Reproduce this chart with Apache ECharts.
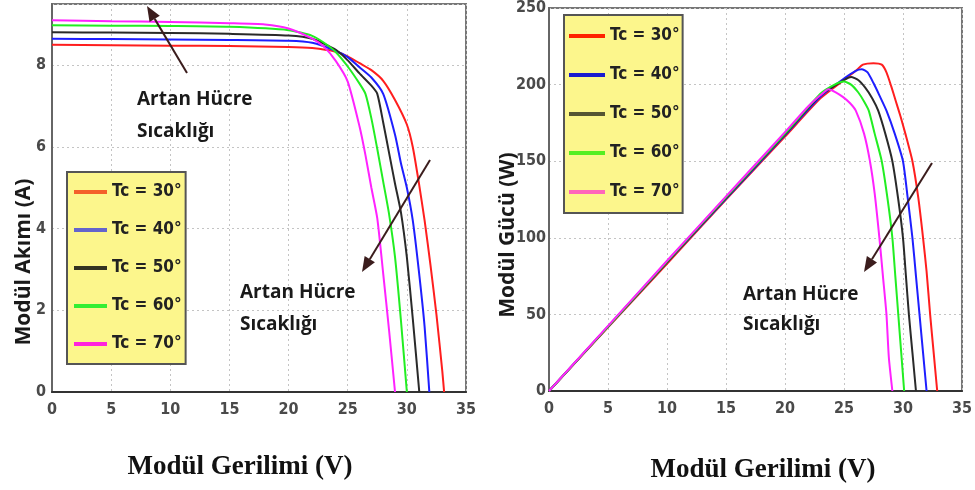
<!DOCTYPE html>
<html><head><meta charset="utf-8">
<script src="https://cdn.jsdelivr.net/npm/echarts@6/dist/echarts.min.js"></script>
<style>html,body{margin:0;padding:0;background:#fff}#c{width:975px;height:490px}</style>
</head><body><div id="c"></div>
<script>
// ---- data ----
const seriesNames = ['Tc = 30°', 'Tc = 40°', 'Tc = 50°', 'Tc = 60°', 'Tc = 70°'];
const xTicks = [0, 5, 10, 15, 20, 25, 30, 35];
const currentTicks = [0, 2, 4, 6, 8];
const powerTicks = [0, 50, 100, 150, 200, 250];

// I-V curves (V, A)
const ivVolt30 = [0, 5, 10, 15, 20, 22, 24, 25, 26, 27, 28, 29, 30, 30.5, 31, 31.5, 32, 32.5, 33, 33.15];
const ivAmp30  = [8.50, 8.49, 8.48, 8.47, 8.45, 8.42, 8.33, 8.22, 8.05, 7.88, 7.62, 7.15, 6.55, 6.0, 5.15, 4.2, 3.1, 1.9, 0.5, 0];
const ivVolt40 = [0, 5, 10, 15, 20, 22, 24, 25, 26, 27, 28, 29, 29.5, 30, 30.5, 31, 31.5, 31.9];
const ivAmp40  = [8.65, 8.64, 8.63, 8.62, 8.6, 8.55, 8.35, 8.2, 7.95, 7.7, 7.3, 6.3, 5.6, 5.0, 4.2, 3.0, 1.6, 0];
const ivVolt50 = [0, 5, 10, 15, 20, 22, 24, 25, 26, 27, 27.5, 28, 28.5, 29, 29.5, 30, 30.5, 31.05];
const ivAmp50  = [8.81, 8.8, 8.79, 8.77, 8.73, 8.65, 8.38, 8.12, 7.8, 7.5, 7.3, 6.6, 5.85, 5.1, 4.4, 3.3, 1.8, 0];
const ivVolt60 = [0, 5, 10, 15, 20, 22, 23, 24, 25, 26, 26.5, 27, 27.5, 28, 28.5, 29, 29.5, 30];
const ivAmp60  = [8.98, 8.97, 8.96, 8.94, 8.86, 8.72, 8.55, 8.32, 7.97, 7.55, 7.3, 6.7, 5.95, 5.15, 4.35, 3.3, 1.75, 0];
const ivVolt70 = [0, 5, 10, 15, 18, 20, 22, 23, 24, 25, 26, 26.5, 27, 27.5, 28, 28.5, 29];
const ivAmp70  = [9.1, 9.08, 9.06, 9.03, 9.0, 8.9, 8.65, 8.45, 8.1, 7.6, 6.5, 5.8, 5.0, 4.25, 2.9, 1.5, 0];

// P-V curves (V, W)
const pvVolt30 = [0, 5, 10, 15, 20, 23, 25, 26, 26.6, 27.5, 28.2, 28.6, 29.0, 29.4, 29.8, 30.2, 30.8, 31.3, 31.7, 32, 32.3, 32.6, 32.9];
const pvWatt30 = [0, 41.5, 83, 125, 166, 191, 203, 209, 213, 214, 213, 208, 199, 189, 179, 168, 150, 126, 100, 78, 50, 25, 0];
const pvVolt40 = [0, 5, 10, 15, 20, 23, 25, 26, 26.5, 27, 27.5, 28, 28.6, 29.3, 30, 30.4, 30.8, 31.1, 31.4, 31.7, 32];
const pvWatt40 = [0, 42, 84, 125.5, 167, 192, 204, 209, 210, 208, 201, 193, 183, 168, 150, 126, 100, 75, 50, 25, 0];
const pvVolt50 = [0, 5, 10, 15, 20, 23, 25, 25.6, 26.2, 26.8, 27.4, 27.9, 28.5, 29.1, 29.6, 30, 30.25, 30.5, 30.8, 31.1];
const pvWatt50 = [0, 42, 84, 126, 167.5, 193, 203, 205, 203, 198, 191, 183, 168, 150, 125, 100, 75, 50, 25, 0];
const pvVolt60 = [0, 5, 10, 15, 20, 23, 24.2, 25, 25.6, 26.2, 26.7, 27.1, 27.6, 28.2, 28.7, 29.1, 29.35, 29.6, 29.85, 30.1];
const pvWatt60 = [0, 42, 84.5, 126.5, 168, 194, 200, 202, 200, 195, 189, 183, 168, 150, 125, 100, 75, 50, 25, 0];
const pvVolt70 = [0, 5, 10, 15, 20, 22, 23, 23.7, 24.3, 24.9, 25.5, 26, 26.7, 27.2, 27.6, 28, 28.3, 28.6, 28.8, 29.1];
const pvWatt70 = [0, 42.5, 85, 127, 169, 186, 193, 197, 195, 192, 188, 183, 168, 150, 129, 100, 75, 50, 22, 0];

const lineColors = ['#ff1e1e', '#1e1eff', '#2a2a2a', '#22ee22', '#ff22ff'];
const legendColorsLeft = ['#f4602a', '#6464cc', '#333322', '#33ee33', '#ff22dd'];
const legendColorsRight = ['#ff2200', '#1a1ad0', '#555533', '#55ee22', '#ff66bb'];

// ---- build ----
const ivSets = [[ivVolt30, ivAmp30], [ivVolt40, ivAmp40], [ivVolt50, ivAmp50], [ivVolt60, ivAmp60], [ivVolt70, ivAmp70]];
const pvSets = [[pvVolt30, pvWatt30], [pvVolt40, pvWatt40], [pvVolt50, pvWatt50], [pvVolt60, pvWatt60], [pvVolt70, pvWatt70]];
const zip = (a, b) => a.map((v, i) => [v, b[i]]);

const tickFont = "'DejaVu Sans Condensed','Liberation Sans Narrow',sans-serif";
const legFont = tickFont;
const annFont = "'Open Sans','Noto Sans',sans-serif";

function makeX(gi) {
  return {
    type: 'value', gridIndex: gi, min: xTicks[0], max: xTicks[xTicks.length - 1], interval: 5,
    axisLine: { show: true, onZero: false, lineStyle: { color: '#333', width: 2 } },
    axisTick: { show: false },
    axisLabel: { margin: 10, color: '#4a4a4a', fontFamily: tickFont, fontWeight: 'bold', fontSize: 16 },
    splitLine: { show: true, lineStyle: { color: '#c4c4c4', width: 1, type: [2, 3] } }
  };
}
function makeY(gi, max, interval, margin) {
  return {
    type: 'value', gridIndex: gi, min: 0, max: max, interval: interval,
    axisLine: { show: true, onZero: false, lineStyle: { color: '#666', width: 2 } },
    axisTick: { show: false },
    axisLabel: { margin: margin, color: '#4a4a4a', fontFamily: tickFont, fontWeight: 'bold', fontSize: 16, showMaxLabel: max % interval === 0 },
    splitLine: { show: true, lineStyle: { color: '#c4c4c4', width: 1, type: [2, 3] } }
  };
}

const series = [];
ivSets.forEach((s, k) => series.push({
  name: seriesNames[k], type: 'line', xAxisIndex: 0, yAxisIndex: 0, showSymbol: false, symbol: 'none',
  smooth: 0.2, data: zip(s[0], s[1]),
  lineStyle: { color: lineColors[k], width: 2 }, itemStyle: { color: lineColors[k] }, z: 3
}));
pvSets.forEach((s, k) => series.push({
  name: seriesNames[k], type: 'line', xAxisIndex: 1, yAxisIndex: 1, showSymbol: false, symbol: 'none',
  smooth: 0.2, data: zip(s[0], s[1]),
  lineStyle: { color: lineColors[k], width: 2 }, itemStyle: { color: lineColors[k] }, z: 3
}));

function makeLegend(left, top, colors, itemWidth, gap, pad) {
  return {
    left: left, top: top, orient: 'vertical', icon: 'rect', itemWidth: itemWidth, itemHeight: 4, itemGap: gap,
    selectedMode: false, padding: pad, backgroundColor: '#fcf68c', borderColor: '#555', borderWidth: 2,
    textStyle: { fontFamily: legFont, fontWeight: 'bold', fontSize: 17, color: '#222', lineHeight: 20 },
    data: seriesNames.map((n, k) => ({ name: n, itemStyle: { color: colors[k] } })),
    z: 10
  };
}

function arrow(x1, y1, x2, y2) {
  const a = Math.atan2(y2 - y1, x2 - x1), L = 15, W = 6;
  const bx = x2 - L * Math.cos(a), by = y2 - L * Math.sin(a);
  const col = '#3b1d1d';
  return [
    { type: 'line', shape: { x1: x1, y1: y1, x2: bx, y2: by }, style: { stroke: col, lineWidth: 2 }, z: 20 },
    { type: 'polygon', shape: { points: [[x2, y2], [bx + W * Math.sin(a), by - W * Math.cos(a)], [bx - W * Math.sin(a), by + W * Math.cos(a)]] }, style: { fill: col }, z: 20 }
  ];
}
function label(text, x, y, font, extra) {
  return Object.assign({ type: 'text', x: x, y: y, z: 20,
    style: Object.assign({ text: text, font: font, fill: '#1a1a1a', align: 'left', verticalAlign: 'top', textAlign: 'left', textVerticalAlign: 'top' }, extra || {}) });
}
function rotLabel(text, x, y) {
  return { type: 'text', x: x, y: y, rotation: Math.PI / 2, z: 20,
    style: { text: text, font: "bold 21px " + annFont, fill: '#1a1a1a', align: 'center', verticalAlign: 'middle', textAlign: 'center', textVerticalAlign: 'middle' } };
}

const serifTitle = "bold 27px 'Liberation Serif','DejaVu Serif',serif";
const graphics = [].concat(
  arrow(187, 73, 147, 6),
  arrow(430, 160, 362, 272),
  arrow(932, 163, 864, 272),
  [
    label('Artan Hücre\nSıcaklığı', 137, 84, "bold 19px " + annFont, { lineHeight: 32 }),
    label('Artan Hücre\nSıcaklığı', 240, 277, "bold 19px " + annFont, { lineHeight: 32 }),
    label('Artan Hücre\nSıcaklığı', 743, 280, "bold 19px " + annFont, { lineHeight: 30 }),
    rotLabel('Modül Akımı (A)', 24, 262),
    rotLabel('Modül Gücü (W)', 508, 235),
    { type: 'text', x: 240, y: 467, z: 20, style: { text: 'Modül Gerilimi (V)', font: serifTitle, fill: '#111', align: 'center', verticalAlign: 'middle', textAlign: 'center', textVerticalAlign: 'middle' } },
    { type: 'text', x: 763, y: 470, z: 20, style: { text: 'Modül Gerilimi (V)', font: serifTitle, fill: '#111', align: 'center', verticalAlign: 'middle', textAlign: 'center', textVerticalAlign: 'middle' } }
  ]
);

const chart = echarts.init(document.getElementById('c'), null, { renderer: 'canvas' });
chart.setOption({
  animation: false,
  backgroundColor: '#ffffff',
  grid: [
    { left: 52, top: 4, width: 414, height: 388, show: true, borderColor: '#777', borderWidth: 2, backgroundColor: 'transparent' },
    { left: 549, top: 3, width: 418, height: 388, show: true, borderColor: '#777', borderWidth: 2, backgroundColor: 'transparent' }
  ],
  xAxis: [makeX(0), makeX(1)],
  yAxis: [makeY(0, 9.5, 2, 6), makeY(1, 250, 50, 3)],
  legend: [
    makeLegend(67, 172, legendColorsLeft, 33, 18, [10, 4, 10, 7]),
    makeLegend(564, 15, legendColorsRight, 36, 19, [11, 3, 11, 5])
  ],
  series: series,
  graphic: graphics
});
</script></body></html>
